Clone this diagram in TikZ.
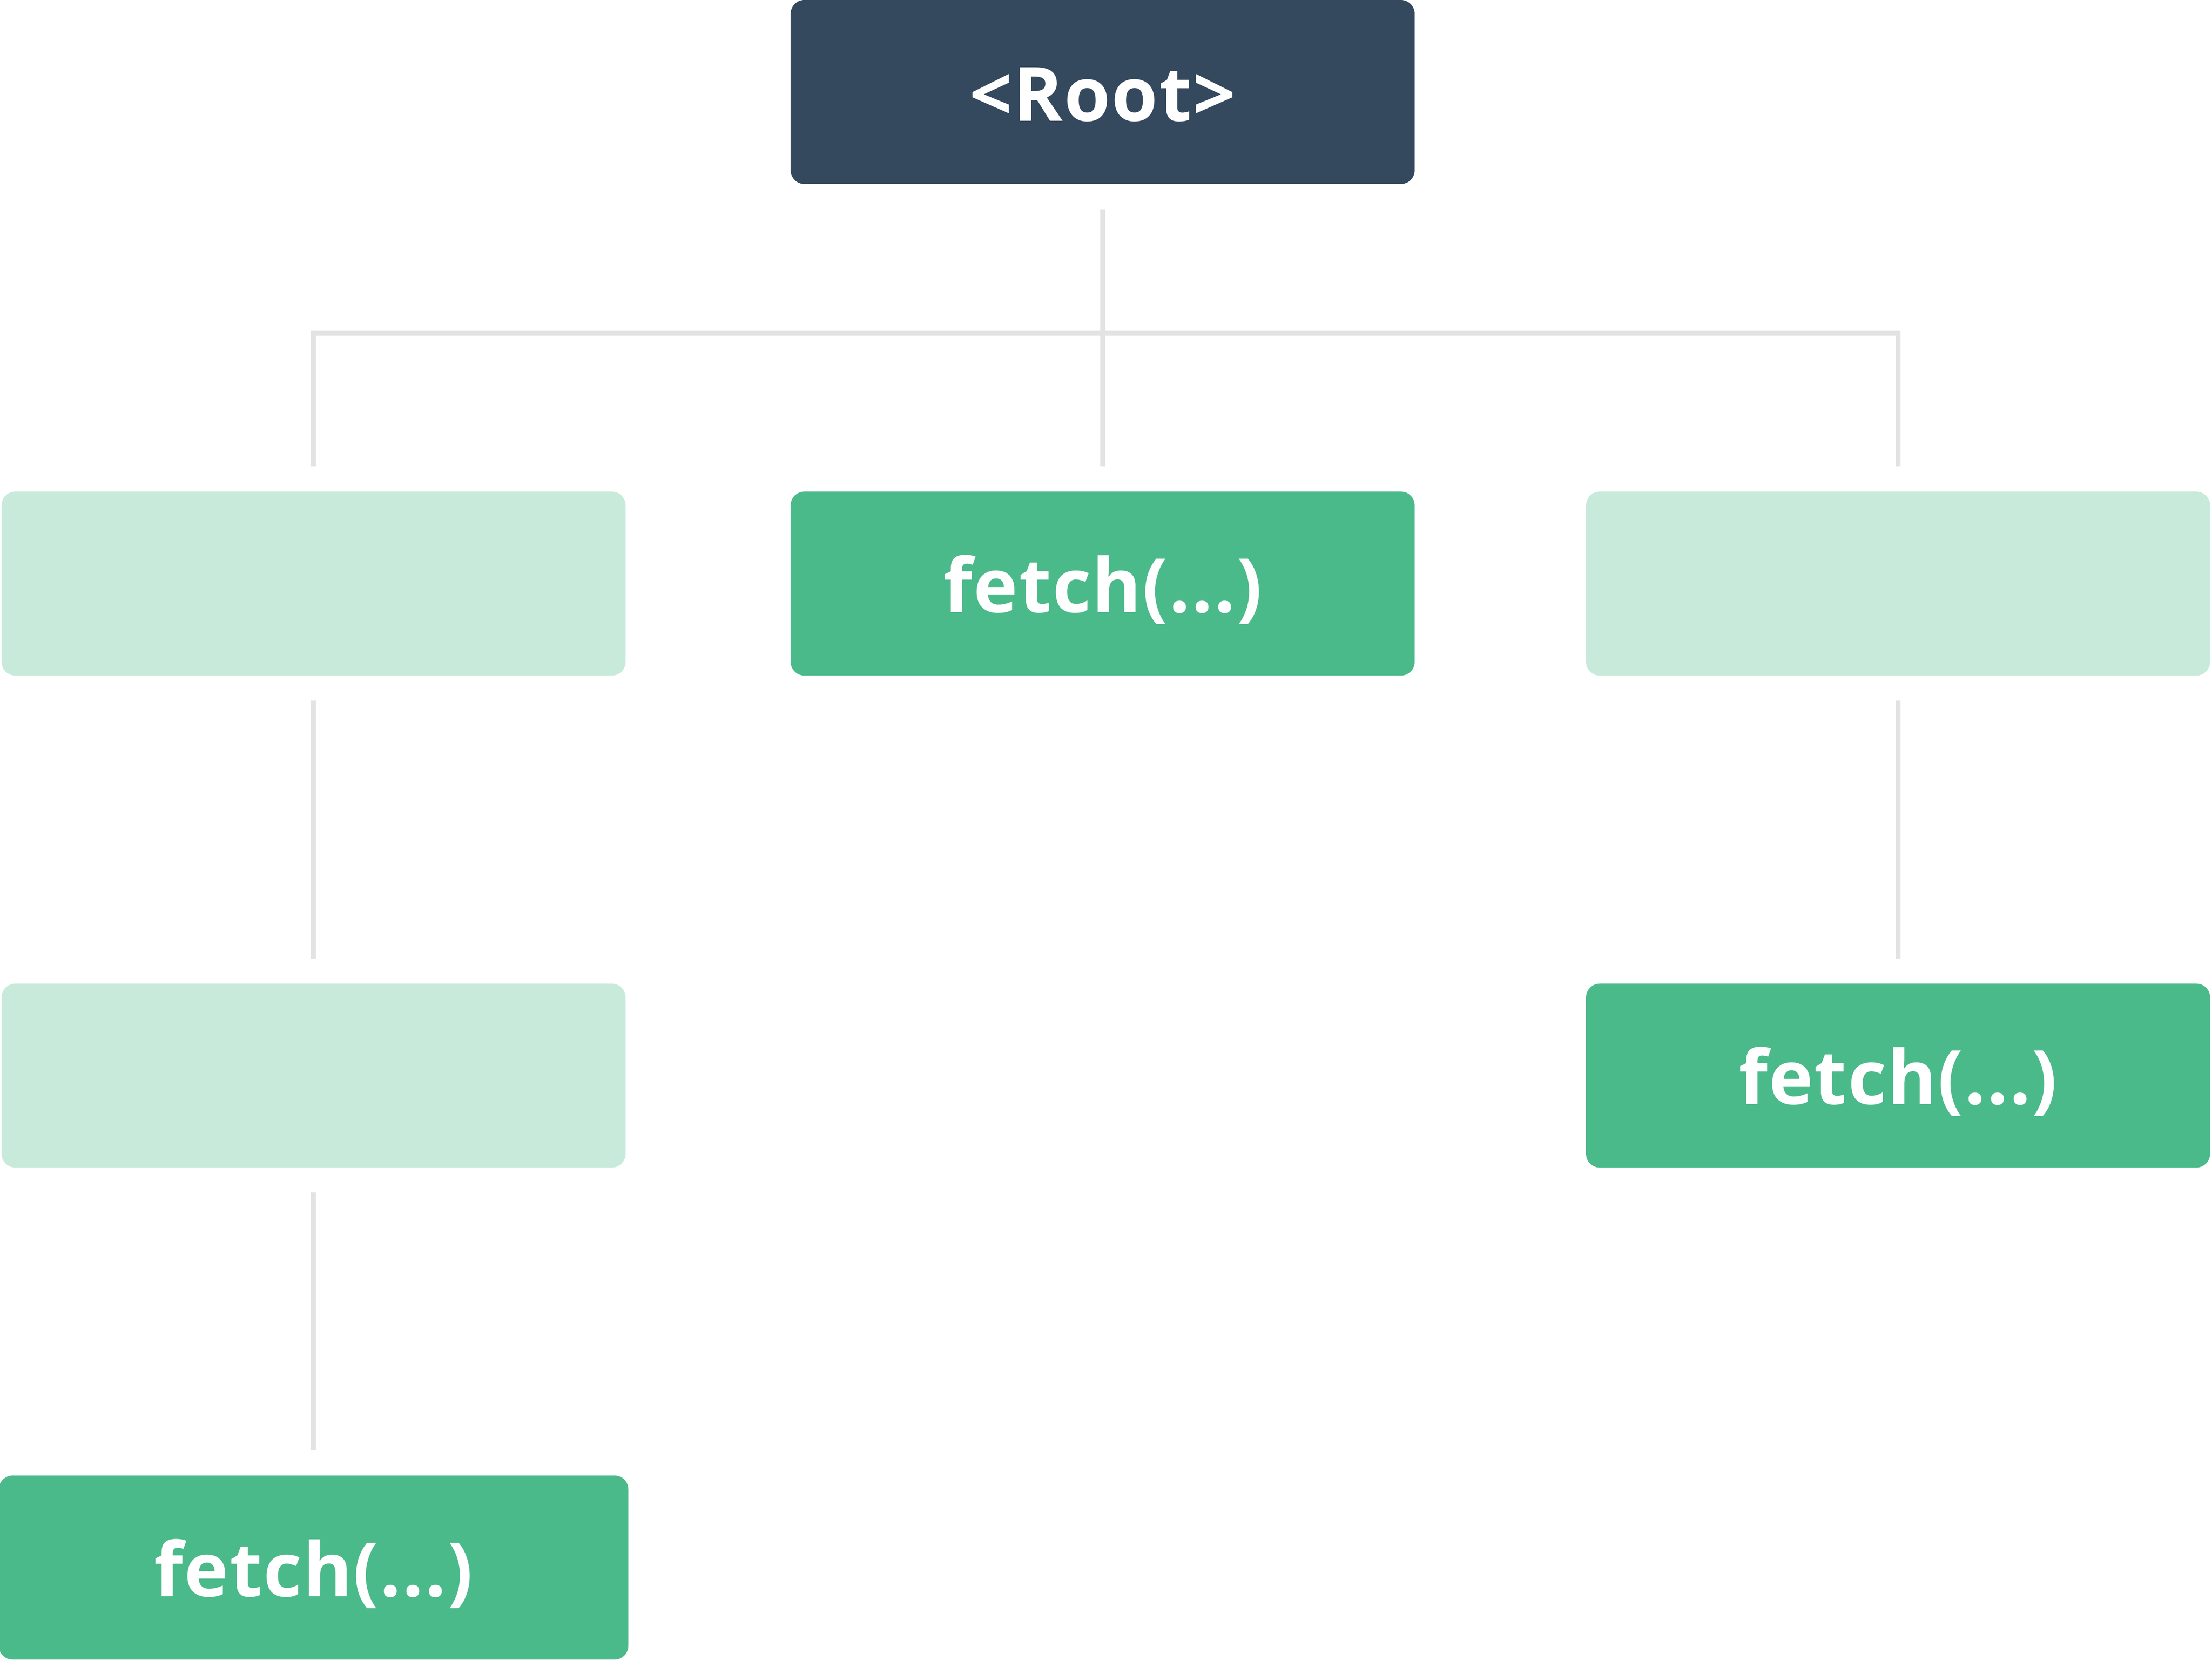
\documentclass[tikz,border=0pt]{standalone}
\usepackage{fontspec}
\setmainfont{Open Sans}
\newfontfamily\labelfont{Open Sans}[LetterSpace=1.5]
\usepackage{tikz}
\usetikzlibrary{positioning}
\usetikzlibrary{calc}

\definecolor{rootblue}{RGB}{52,73,94}
\definecolor{fetchgreen}{RGB}{75,186,138}
\definecolor{palegreen}{RGB}{200,234,218}
\definecolor{linkgrey}{RGB}{227,227,227}

\tikzset{
  box/.style={rectangle, rounded corners=0.175cm, minimum width=7.9cm, minimum height=2.33cm,
    inner sep=0pt, text=white, font=\labelfont\bfseries\fontsize{27}{33}\selectfont,
    text height=0.98cm, text depth=0.25cm},
  rootbox/.style={box, fill=rootblue},
  fetchbox/.style={box, fill=fetchgreen},
  emptybox/.style={box, fill=palegreen},
  link/.style={draw=linkgrey, line width=0.06cm}
}

\begin{document}
\begin{tikzpicture}

\useasboundingbox (0, 0) rectangle (28.005, -21.02);

\node [rootbox] (root) at (13.96, -1.165) {<Root>};
\node [emptybox] (left) at (3.97, -7.39) {};
\node [fetchbox] (mid) at (13.96, -7.39) {fetch(...)};
\node [emptybox] (right) at (24.03, -7.39) {};
\node [emptybox] (leftmid) at (3.97, -13.62) {};
\node [fetchbox] (rightfetch) at (24.03, -13.62) {fetch(...)};
\node [fetchbox, minimum width=7.97cm] (leftfetch) at (3.97, -19.85) {fetch(...)};

\coordinate (bar) at (13.96, -4.22);

\draw [link] ([yshift=-0.315cm]root.south) -- ([yshift=0.315cm]mid.north);
\draw [link] ([yshift=0.315cm]left.north) |- (bar) -| ([yshift=0.315cm]right.north);
\draw [link] ([yshift=-0.31cm]left.south) -- ([yshift=0.31cm]leftmid.north);
\draw [link] ([yshift=-0.31cm]right.south) -- ([yshift=0.31cm]rightfetch.north);
\draw [link] ([yshift=-0.31cm]leftmid.south) -- ([yshift=0.31cm]leftfetch.north);

\end{tikzpicture}
\end{document}
